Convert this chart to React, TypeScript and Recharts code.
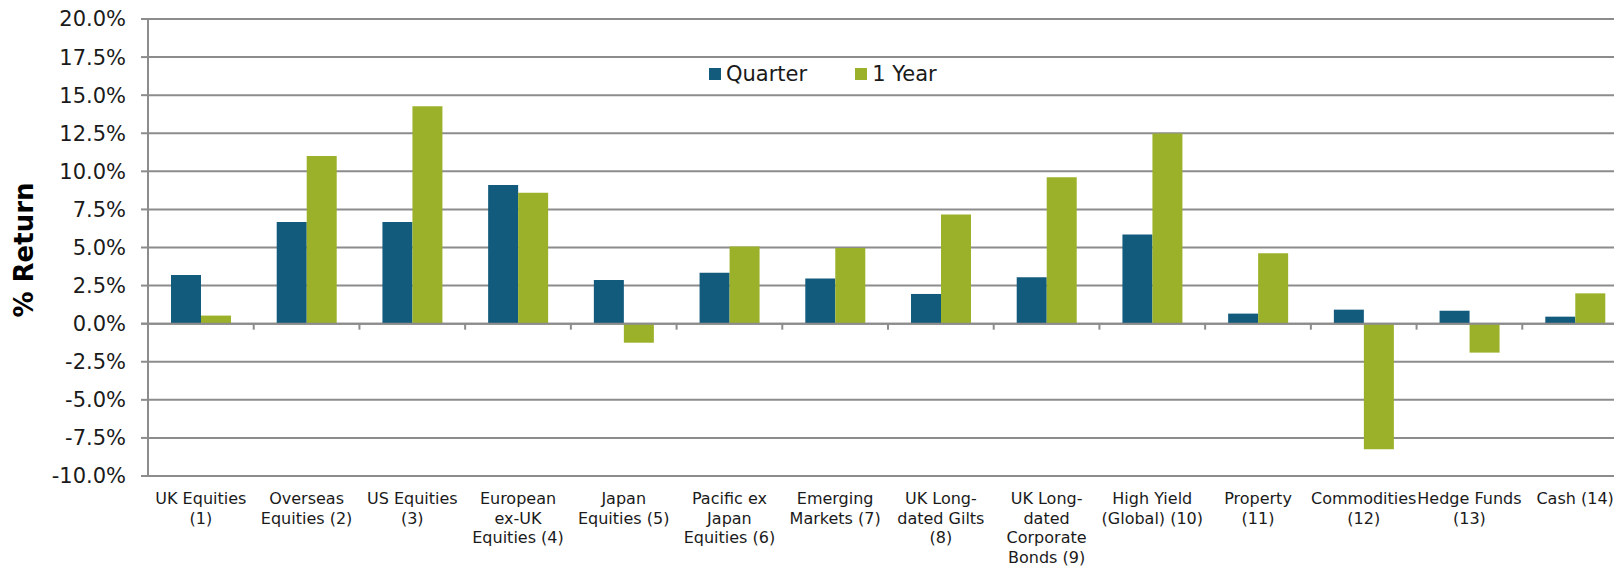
import { BarChart, Bar, XAxis, YAxis, CartesianGrid, Legend, ReferenceLine } from "recharts";

const FONT = "'DejaVu Sans', Verdana, sans-serif";

const categories = [
  "UK Equities\n(1)",
  "Overseas\nEquities (2)",
  "US Equities\n(3)",
  "European\nex-UK\nEquities (4)",
  "Japan\nEquities (5)",
  "Pacific ex\nJapan\nEquities (6)",
  "Emerging\nMarkets (7)",
  "UK Long-\ndated Gilts\n(8)",
  "UK Long-\ndated\nCorporate\nBonds (9)",
  "High Yield\n(Global) (10)",
  "Property\n(11)",
  "Commodities\n(12)",
  "Hedge Funds\n(13)",
  "Cash (14)",
];

const quarter = [3.2, 6.67, 6.68, 9.11, 2.87, 3.35, 2.96, 1.95, 3.04, 5.85, 0.66, 0.92, 0.85, 0.46];
const oneYear = [0.53, 11.0, 14.28, 8.6, -1.25, 5.06, 4.97, 7.16, 9.61, 12.48, 4.62, -8.24, -1.9, 1.99];

const yTicks = [-10, -7.5, -5, -2.5, 0, 2.5, 5, 7.5, 10, 12.5, 15, 17.5, 20];

const data = categories.map((name, i) => ({
  name,
  quarter: quarter[i],
  oneYear: oneYear[i],
}));

function CategoryTick(props: any) {
  const { x, y, payload } = props;
  const lines = String(payload.value).split("\n");
  return (
    <text x={x} y={y} textAnchor="middle" fill="#1a1a1a" fontSize={16} fontFamily={FONT}>
      {lines.map((line, i) => (
        <tspan key={i} x={x} dy={i === 0 ? 28 : 19.7}>
          {line}
        </tspan>
      ))}
    </text>
  );
}

// zero line with small category tick marks hanging below it
function ZeroLine(props: any) {
  const { x1, y1, x2 } = props;
  const n = categories.length;
  const step = (x2 - x1) / n;
  const marks = [];
  for (let i = 0; i <= n; i++) {
    const x = x1 + step * i;
    marks.push(<line key={i} x1={x} y1={y1} x2={x} y2={y1 + 6} stroke="#8c8c8c" strokeWidth={2} />);
  }
  return (
    <g>
      <line x1={x1 - 7} y1={y1} x2={x2} y2={y1} stroke="#8c8c8c" strokeWidth={2} />
      {marks}
    </g>
  );
}

const seriesOrder = ["Quarter", "1 Year"];

function LegendBox(props: any) {
  const items = [...(props.payload || [])].sort(
    (a: any, b: any) => seriesOrder.indexOf(a.value) - seriesOrder.indexOf(b.value)
  );
  return (
    <div style={{ display: "flex", alignItems: "center", fontFamily: FONT, fontSize: 21, color: "#1a1a1a" }}>
      {items.map((it: any, i: number) => (
        <div key={i} style={{ display: "flex", alignItems: "center", marginRight: i === 0 ? 48 : 0 }}>
          <span style={{ width: 12, height: 12, background: it.color, display: "inline-block", marginRight: 5 }} />
          <span>{it.value}</span>
        </div>
      ))}
    </div>
  );
}

export default function App() {
  return (
    <div style={{ position: "absolute", left: 0, top: 0, width: 1614, height: 566, overflow: "hidden", background: "#fff" }}>
      <BarChart
        width={1640}
        height={566}
        data={data}
        margin={{ top: 19, right: 12, left: 0, bottom: 0 }}
        barGap={0}
        barSize={30}
      >
        <CartesianGrid vertical={false} stroke="#8c8c8c" strokeWidth={2} />
        <XAxis
          dataKey="name"
          interval={0}
          axisLine={false}
          tickLine={false}
          tickSize={0}
          tickMargin={0}
          height={90}
          tick={<CategoryTick />}
        />
        <YAxis
          width={148}
          domain={[-10, 20]}
          ticks={yTicks}
          tickFormatter={(v: number) => v.toFixed(1) + "%"}
          axisLine={{ stroke: "#8c8c8c", strokeWidth: 2 }}
          tickLine={{ stroke: "#8c8c8c", strokeWidth: 2 }}
          tickSize={7}
          tickMargin={15}
          tick={{ fill: "#1a1a1a", fontSize: 21, fontFamily: FONT }}
          label={{
            content: () => (
              <text
                x={24}
                y={250}
                transform="rotate(-90 24 250)"
                textAnchor="middle"
                dominantBaseline="central"
                fontFamily={FONT}
                fontWeight="bold"
                fontSize={26}
                fill="#000"
              >
                % Return
              </text>
            ),
          }}
        />
        <Legend
          layout="horizontal"
          align="center"
          verticalAlign="middle"
          content={<LegendBox />}
          wrapperStyle={{ position: "absolute", left: 709, top: 62, width: "auto", height: "auto" }}
        />
        <Bar dataKey="quarter" name="Quarter" fill="#135B7C" isAnimationActive={false} />
        <Bar dataKey="oneYear" name="1 Year" fill="#9BB129" isAnimationActive={false} />
        <ReferenceLine y={0} shape={<ZeroLine />} />
      </BarChart>
    </div>
  );
}
